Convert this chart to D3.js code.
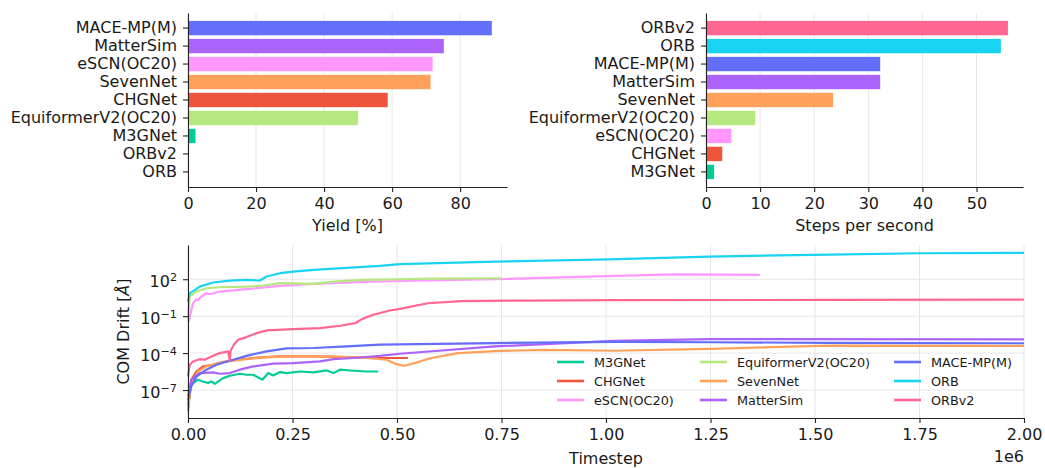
<!DOCTYPE html>
<html>
<head>
<meta charset="utf-8">
<script src="https://cdn.jsdelivr.net/npm/d3@7"></script>
<style>
  body { margin: 0; background: #fff; }
  text { font-family: "DejaVu Sans", sans-serif; fill: #1a1a1a; }
</style>
</head>
<body>
<svg id="chart" width="1045" height="468"></svg>
<script>
const modelColors = {
  "M3GNet": "#00CC96", "CHGNet": "#EF553B", "eSCN(OC20)": "#FF97FF",
  "EquiformerV2(OC20)": "#B6E880", "SevenNet": "#FFA15A", "MatterSim": "#AB63FA",
  "MACE-MP(M)": "#636EFA", "ORB": "#19D3F3", "ORBv2": "#FF6692"
};

// top left: yield
const yieldModels = ["MACE-MP(M)", "MatterSim", "eSCN(OC20)", "SevenNet", "CHGNet",
  "EquiformerV2(OC20)", "M3GNet", "ORBv2", "ORB"];
const yieldValues = [89.3, 75.2, 71.9, 71.3, 58.7, 50.0, 2.2, 0.1, 0.05];
const yieldTicks = [0, 20, 40, 60, 80];

// top right: speed
const speedModels = ["ORBv2", "ORB", "MACE-MP(M)", "MatterSim", "SevenNet",
  "EquiformerV2(OC20)", "eSCN(OC20)", "CHGNet", "M3GNet"];
const speedValues = [55.8, 54.5, 32.2, 32.2, 23.5, 9.1, 4.7, 3.0, 1.5];
const speedTicks = [0, 10, 20, 30, 40, 50];

// bottom: COM drift over time
const driftModels = ["M3GNet", "CHGNet", "eSCN(OC20)", "EquiformerV2(OC20)", "SevenNet",
  "MatterSim", "MACE-MP(M)", "ORB", "ORBv2"];

const m3gnetSteps = [0, 5600, 12000, 24000, 36000, 48000, 56000, 64000, 84000, 100000, 124000, 140000,
  156000, 178000, 192000, 204000, 220000, 236000, 268000, 300000, 332000, 348000, 364000, 396000, 427000, 455000];
const m3gnetDrift = [2.0e-9, 2.0e-7, 3.7e-7, 6.9e-7, 5.0e-7, 3.7e-7, 5.0e-7, 3.2e-7, 9.3e-7, 1.45e-6, 2.1e-6, 1.74e-6,
  1.74e-6, 6.9e-7, 2.4e-6, 1.55e-6, 2.9e-6, 2.4e-6, 3.2e-6, 2.7e-6, 3.9e-6, 2.4e-6, 4.5e-6, 3.7e-6, 3.2e-6, 3.2e-6];

const chgnetSteps = [0, 8000, 20000, 36000, 60000, 100000, 156000, 220000, 300000, 380000, 459000, 526000];
const chgnetDrift = [5.0e-9, 6.9e-7, 3.2e-6, 8.3e-6, 1.12e-5, 2.5e-5, 4.0e-5, 5.4e-5, 5.4e-5, 4.8e-5, 4.0e-5, 4.0e-5];

const escnSteps = [1600, 12000, 20000, 24000, 32000, 44000, 52000, 76000, 140000, 220000, 300000, 420000,
  507000, 734000, 1020000, 1168000, 1368000];
const escnDrift = [0.037, 1.1, 2.4, 2.1, 4.0, 7.2, 6.0, 10, 15.5, 29, 42, 60, 72, 100, 186, 250, 224];

const equiformerSteps = [0, 4000, 20000, 44000, 76000, 140000, 180000, 220000, 300000, 348000, 420000, 507000, 574000, 750000];
const equiformerDrift = [0.05, 4, 10, 18.6, 22.4, 25, 31, 48, 42, 65, 89, 100, 112, 120];

const sevennetSteps = [0, 8000, 24000, 44000, 76000, 140000, 188000, 244000, 340000, 427000, 475000, 494500,
  518000, 542000, 582000, 646000, 734000, 853000, 1020000, 1248000, 1535000, 2000000];
const sevennetDrift = [2.5e-9, 4.0e-7, 3.2e-6, 8.3e-6, 1.74e-5, 3.2e-5, 4.8e-5, 5.4e-5, 5.4e-5, 4.0e-5, 2.9e-5, 1.41e-5,
  9.3e-6, 1.55e-5, 4.0e-5, 1.0e-4, 1.45e-4, 1.86e-4, 1.55e-4, 2.24e-4, 4.0e-4, 3.9e-4];

const mattersimSteps = [0, 8000, 28000, 60000, 76000, 100000, 124000, 156000, 204000, 252000, 316000, 348000,
  396000, 459000, 507000, 734000, 1020000, 1248000, 2000000];
const mattersimDrift = [3.2e-8, 6.9e-7, 2.4e-6, 2.7e-6, 2.1e-6, 2.4e-6, 4.5e-6, 8.3e-6, 1.38e-5, 1.55e-5, 2.1e-5, 3.2e-5,
  4.0e-5, 6.0e-5, 8.9e-5, 3.5e-4, 1.0e-3, 1.38e-3, 1.32e-3];

const maceSteps = [0, 8000, 20000, 44000, 68000, 100000, 140000, 188000, 236000, 300000, 380000, 459000,
  734000, 1020000, 1248000, 1535000, 2000000];
const maceDrift = [1.58e-8, 2.0e-7, 1.26e-6, 4.5e-6, 1.12e-5, 2.4e-5, 6.0e-5, 1.38e-4, 2.4e-4, 2.6e-4, 3.5e-4, 4.8e-4,
  6.5e-4, 8.3e-4, 7.6e-4, 6.8e-4, 6.3e-4];

const orbSteps = [0, 4000, 28000, 60000, 100000, 140000, 172000, 188000, 220000, 252000, 300000, 380000, 459000,
  507000, 734000, 1005000, 1248000, 1535000, 1750000, 2000000];
const orbDrift = [1.5, 7.2, 25, 54, 78, 89, 78, 166, 309, 417, 575, 832, 1200, 1660, 2690, 4170, 6900, 10000, 12900, 13800];

const orbv2Steps = [0, 4000, 12000, 28000, 40000, 56000, 76000, 96000, 100000, 102000, 110000, 120000, 140000,
  164000, 188000, 252000, 316000, 364000, 400000, 416000, 443000, 483000, 507000, 574000, 654000, 813000,
  1020000, 1535000, 2000000];
const orbv2Drift = [1.26e-6, 1.12e-5, 2.1e-5, 3.2e-5, 2.9e-5, 5.4e-5, 1.0e-4, 1.38e-4, 2.5e-5, 1.58e-4, 5.0e-4, 1.2e-3, 2.0e-3,
  4.2e-3, 6.9e-3, 8.9e-3, 0.0107, 0.0166, 0.0269, 0.0575, 0.129, 0.288, 0.389, 1.12, 1.66, 1.86, 2.0, 2.09, 2.24];

const driftSeries = {
  "M3GNet": [m3gnetSteps, m3gnetDrift],
  "CHGNet": [chgnetSteps, chgnetDrift],
  "eSCN(OC20)": [escnSteps, escnDrift],
  "EquiformerV2(OC20)": [equiformerSteps, equiformerDrift],
  "SevenNet": [sevennetSteps, sevennetDrift],
  "MatterSim": [mattersimSteps, mattersimDrift],
  "MACE-MP(M)": [maceSteps, maceDrift],
  "ORB": [orbSteps, orbDrift],
  "ORBv2": [orbv2Steps, orbv2Drift]
};
const stepTicks = [0, 250000, 500000, 750000, 1000000, 1250000, 1500000, 1750000, 2000000];
const driftTicks = [1e-7, 1e-4, 1e-1, 1e2];

const svg = d3.select("#chart");
svg.append("rect").attr("width", 1045).attr("height", 468).attr("fill", "#fff");

const FONT = 16;
const GRID = "#e6e6e6";
const INK = "#222";

function styleAxis(g) {
  g.selectAll(".domain").attr("stroke", INK).attr("stroke-width", 1.1);
  g.selectAll(".tick line").attr("stroke", INK).attr("stroke-width", 1.1);
  g.selectAll(".tick text").attr("font-size", FONT).attr("fill", "#1a1a1a");
}

function drawBars(models, values, ticks, box, label) {
  const x = d3.scaleLinear().domain([0, d3.max(values) * 1.05]).range([box.left, box.right]);
  const y = d3.scaleBand().domain(models).range([box.top, box.bottom])
    .paddingInner(0.2).paddingOuter(0.44);

  // grid
  svg.append("g").selectAll("line").data(ticks).join("line")
    .attr("x1", d => x(d)).attr("x2", d => x(d))
    .attr("y1", box.top).attr("y2", box.bottom)
    .attr("stroke", GRID).attr("stroke-width", 1);

  svg.append("g").selectAll("rect").data(models).join("rect")
    .attr("x", x(0))
    .attr("y", d => y(d))
    .attr("width", (d, i) => x(values[i]) - x(0))
    .attr("height", y.bandwidth())
    .attr("fill", d => modelColors[d]);

  const gx = svg.append("g").attr("transform", `translate(0,${box.bottom})`)
    .call(d3.axisBottom(x).tickValues(ticks).tickFormat(d3.format("d"))
      .tickSize(5).tickSizeOuter(0).tickPadding(6));
  styleAxis(gx);

  const gy = svg.append("g").attr("transform", `translate(${box.left},0)`)
    .call(d3.axisLeft(y).tickSize(5).tickSizeOuter(0).tickPadding(6));
  styleAxis(gy);

  svg.append("text")
    .attr("x", (box.left + box.right) / 2).attr("y", box.bottom + 44)
    .attr("text-anchor", "middle").attr("font-size", FONT)
    .text(label);
}

drawBars(yieldModels, yieldValues, yieldTicks,
  { left: 188, right: 507, top: 13, bottom: 187 }, "Yield [%]");
drawBars(speedModels, speedValues, speedTicks,
  { left: 706, right: 1023, top: 13, bottom: 187 }, "Steps per second");

// bottom line chart
const box = { left: 188, right: 1024, top: 245, bottom: 418 };
const x = d3.scaleLinear().domain([0, 2000000]).range([box.left, box.right]);
const y = d3.scaleLog().domain([Math.pow(10, -9.27), Math.pow(10, 4.78)]).range([box.bottom, box.top]);

const grid = svg.append("g");
grid.selectAll(".gx").data(stepTicks).join("line")
  .attr("x1", d => x(d)).attr("x2", d => x(d))
  .attr("y1", box.top).attr("y2", box.bottom)
  .attr("stroke", GRID);
grid.selectAll(".gy").data(driftTicks).join("line")
  .attr("x1", box.left).attr("x2", box.right)
  .attr("y1", d => y(d)).attr("y2", d => y(d))
  .attr("stroke", GRID);

const line = d3.line().x(d => x(d[0])).y(d => y(d[1]));
driftModels.forEach(name => {
  const [steps, drift] = driftSeries[name];
  svg.append("path")
    .datum(steps.map((s, i) => [s, drift[i]]))
    .attr("fill", "none")
    .attr("stroke", modelColors[name])
    .attr("stroke-width", 2.2)
    .attr("stroke-linejoin", "round")
    .attr("d", line);
});

const bx = svg.append("g").attr("transform", `translate(0,${box.bottom})`)
  .call(d3.axisBottom(x).tickValues(stepTicks).tickFormat(d => (d / 1e6).toFixed(2))
    .tickSize(5).tickSizeOuter(0).tickPadding(6));
styleAxis(bx);

const by = svg.append("g").attr("transform", `translate(${box.left},0)`)
  .call(d3.axisLeft(y).tickValues(driftTicks).tickFormat("")
    .tickSize(5).tickSizeOuter(0).tickPadding(6));
styleAxis(by);
by.selectAll(".tick text").each(function (d) {
  const t = d3.select(this);
  const exp = Math.round(Math.log10(d));
  t.text("10").attr("dy", "0.45em");
  t.append("tspan").attr("dy", "-0.55em").attr("font-size", FONT * 0.7)
    .text(String(exp).replace("-", "\u2212"));
});

svg.append("text")
  .attr("x", (box.left + box.right) / 2).attr("y", 464)
  .attr("text-anchor", "middle").attr("font-size", FONT)
  .text("Timestep");
svg.append("text")
  .attr("x", box.right).attr("y", 462)
  .attr("text-anchor", "end").attr("font-size", FONT)
  .text("1e6");

const yl = svg.append("text")
  .attr("transform", `translate(129,${(box.top + box.bottom) / 2}) rotate(-90)`)
  .attr("text-anchor", "middle").attr("font-size", FONT);
yl.append("tspan").text("COM Drift [");
yl.append("tspan").attr("font-style", "italic").text("\u00C5");
yl.append("tspan").text("]");

// legend, three columns
const legendCols = [557, 700, 894];
const legendRows = [362, 381, 400];
const legend = svg.append("g");
driftModels.forEach((name, i) => {
  const cx = legendCols[Math.floor(i / 3)];
  const cy = legendRows[i % 3];
  legend.append("line")
    .attr("x1", cx).attr("x2", cx + 27).attr("y1", cy).attr("y2", cy)
    .attr("stroke", modelColors[name]).attr("stroke-width", 2.6);
  legend.append("text")
    .attr("x", cx + 37).attr("y", cy).attr("dy", "0.36em")
    .attr("font-size", 12.8)
    .text(name);
});
</script>
</body>
</html>
